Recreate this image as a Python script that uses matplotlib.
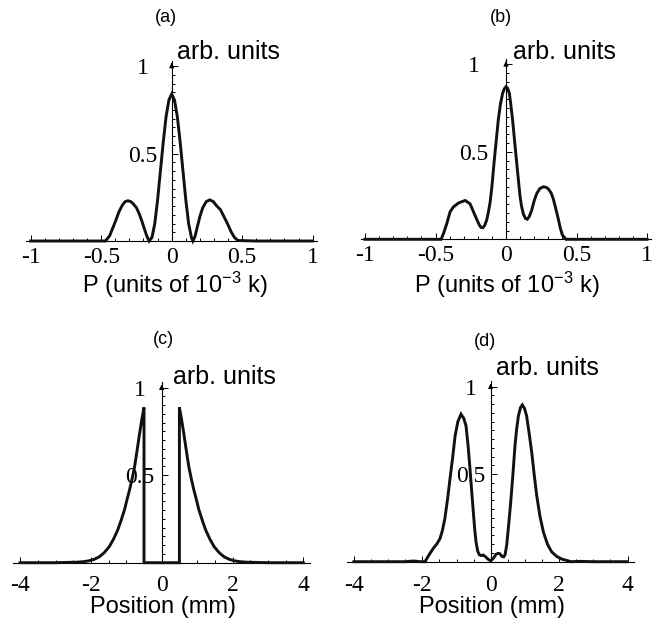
import matplotlib
matplotlib.use('Agg')
import matplotlib.pyplot as plt
from matplotlib.ticker import MultipleLocator

plt.rcParams['axes.unicode_minus'] = False
plt.rcParams['mathtext.default'] = 'regular'

# ------------------------------------------------------------
# data
# ------------------------------------------------------------
# (a) momentum distribution
xa = [-1.0, -0.6, -0.47, -0.44, -0.42, -0.40, -0.375, -0.35, -0.33, -0.31, -0.29,
      -0.27, -0.25, -0.23, -0.21, -0.19, -0.175, -0.16, -0.14, -0.12, -0.10, -0.08,
      -0.06, -0.04, -0.02, 0.0, 0.02, 0.04, 0.06, 0.08, 0.10, 0.12, 0.14, 0.15,
      0.165, 0.18, 0.20, 0.22, 0.245, 0.27, 0.295, 0.32, 0.345, 0.37, 0.395, 0.42,
      0.445, 0.47, 0.6, 1.0]
ya = [0.0, 0.0, 0.0, 0.03, 0.07, 0.11, 0.165, 0.205, 0.225, 0.23, 0.225,
      0.21, 0.19, 0.155, 0.11, 0.06, 0.025, 0.0, 0.02, 0.10, 0.235, 0.40,
      0.565, 0.71, 0.805, 0.84, 0.805, 0.71, 0.565, 0.40, 0.235, 0.10, 0.02, 0.0,
      0.025, 0.075, 0.14, 0.19, 0.225, 0.235, 0.225, 0.20, 0.18, 0.14, 0.10, 0.055,
      0.02, 0.003, 0.0, 0.0]

# (b) momentum distribution
xb = [-1.0, -0.7, -0.5, -0.46, -0.44, -0.42, -0.397, -0.374, -0.338, -0.29, -0.255,
      -0.22, -0.189, -0.177, -0.165, -0.152, -0.137, -0.125, -0.113, -0.10, -0.085,
      -0.055, -0.04, -0.024, -0.012, 0.0, 0.012, 0.024, 0.035, 0.047, 0.06, 0.076,
      0.099, 0.11, 0.123, 0.137, 0.151, 0.165, 0.182, 0.20, 0.217, 0.24, 0.265,
      0.285, 0.30, 0.32, 0.335, 0.35, 0.37, 0.385, 0.40, 0.425, 0.7, 1.0]
yb = [0.0, 0.0, 0.0, 0.0, 0.04, 0.09, 0.156, 0.184, 0.207, 0.222, 0.203,
      0.137, 0.081, 0.068, 0.066, 0.078, 0.11, 0.155, 0.21, 0.30, 0.436,
      0.68, 0.77, 0.834, 0.86, 0.872, 0.862, 0.834, 0.765, 0.68, 0.57, 0.436,
      0.25, 0.19, 0.145, 0.12, 0.115, 0.13, 0.166, 0.22, 0.26, 0.29, 0.30,
      0.297, 0.288, 0.265, 0.232, 0.185, 0.119, 0.065, 0.024, 0.0, 0.0, 0.0]

# (c) position distribution
xc = [-4.0, -3.0, -2.4, -2.2, -2.05, -1.9, -1.76, -1.62, -1.48, -1.36, -1.24, -1.15,
      -1.05, -0.98, -0.906, -0.83, -0.763, -0.7, -0.62, -0.56, -0.5, -0.5,
      0.5, 0.5, 0.56, 0.62, 0.7, 0.763, 0.83, 0.906, 0.98, 1.05, 1.15, 1.24,
      1.36, 1.48, 1.62, 1.76, 1.9, 2.05, 2.2, 2.4, 3.0, 4.0]
yc = [0.0, 0.0, 0.003, 0.006, 0.011, 0.02, 0.034, 0.058, 0.092, 0.135, 0.188, 0.24,
      0.303, 0.36, 0.418, 0.485, 0.552, 0.635, 0.744, 0.82, 0.887, 0.0,
      0.0, 0.887, 0.82, 0.744, 0.635, 0.552, 0.485, 0.418, 0.36, 0.303, 0.24, 0.188,
      0.135, 0.092, 0.058, 0.034, 0.02, 0.011, 0.006, 0.003, 0.0, 0.0]

# (d) position distribution
xd = [-4.0, -3.0, -2.5, -2.25, -2.05, -1.92, -1.8, -1.68, -1.58, -1.48, -1.41, -1.34,
      -1.26, -1.19, -1.11, -1.04, -0.96, -0.868, -0.79, -0.722, -0.66, -0.605, -0.555,
      -0.508, -0.47, -0.43, -0.38, -0.333, -0.28, -0.22, -0.15, -0.08, 0.0, 0.08,
      0.155, 0.22, 0.27, 0.33, 0.38, 0.42, 0.468, 0.52, 0.585, 0.65, 0.71, 0.76,
      0.81, 0.87, 0.925, 0.99, 1.05, 1.12, 1.2, 1.27, 1.345, 1.44, 1.54, 1.66,
      1.78, 1.93, 2.08, 2.35, 2.6, 3.0, 4.0]
yd = [0.0, 0.0, 0.0, 0.004, 0.0, 0.0, 0.04, 0.076, 0.10, 0.133, 0.18, 0.247,
      0.36, 0.474, 0.60, 0.72, 0.80, 0.843, 0.82, 0.777, 0.66, 0.53, 0.40,
      0.284, 0.19, 0.114, 0.06, 0.04, 0.035, 0.038, 0.028, 0.015, 0.005, 0.02,
      0.042, 0.048, 0.045, 0.03, 0.028, 0.04, 0.095, 0.20, 0.34, 0.50, 0.663, 0.76,
      0.833, 0.88, 0.896, 0.875, 0.833, 0.74, 0.625, 0.50, 0.379, 0.26, 0.17, 0.10,
      0.057, 0.03, 0.015, 0.0, 0.002, 0.0, 0.0]

p_ticks = [-1, -0.5, 0, 0.5, 1]
p_labels = ['-1', '-0.5', '0', '0.5', '1']
pos_ticks = [-4, -2, 0, 2, 4]
pos_labels = ['-4', '-2', '0', '2', '4']
y_ticks = [0.5, 1]
y_labels = ['0.5', '1']

W, H = 658, 628
fig = plt.figure(figsize=(W / 100, H / 100), dpi=100)
SERIF = 'Liberation Serif'
SANS = 'Liberation Sans'


def panel(x0, y0, sx, sy, xlim, ylim, x, y, xt, xtl, xminor, ypad, xpad):
    # x0, y0: pixel position of the data origin, sx/sy: pixels per unit
    left = x0 + xlim[0] * sx
    right = x0 + xlim[1] * sx
    bot = y0 - ylim[0] * sy
    top = y0 - ylim[1] * sy
    ax = fig.add_axes([left / W, 1 - bot / H, (right - left) / W, (bot - top) / H])
    ax.set_xlim(xlim)
    ax.set_ylim(ylim)
    ax.patch.set_visible(False)
    for s in ['top', 'right']:
        ax.spines[s].set_visible(False)
    ax.spines['left'].set_position(('data', 0))
    ax.spines['bottom'].set_position(('data', 0))
    ax.spines['left'].set_bounds(0, ylim[1])
    for s in ['left', 'bottom']:
        ax.spines[s].set_linewidth(0.8)
    ax.plot(x, y, color='#111111', lw=2.1, solid_joinstyle='miter', zorder=3)
    ax.annotate('', xy=(0, ylim[1] + 0.005), xytext=(0, ylim[1] - 0.04),
                arrowprops=dict(arrowstyle='-|>', color='k', lw=0.8,
                                mutation_scale=7), annotation_clip=False)
    ax.set_xticks(xt)
    ax.set_xticklabels(xtl, family=SERIF, fontsize=17)
    ax.xaxis.set_minor_locator(MultipleLocator(xminor))
    ax.set_yticks(y_ticks)
    ax.set_yticklabels(y_labels, family=SERIF, fontsize=17, ha='center')
    ax.yaxis.set_minor_locator(MultipleLocator(0.05))
    ax.tick_params(which='both', direction='in', width=0.7)
    ax.tick_params(which='major', length=4)
    ax.tick_params(which='minor', length=2.5)
    ax.tick_params(axis='y', pad=ypad)
    ax.tick_params(axis='x', pad=xpad)
    return ax


panel(171.7, 241, 141, 175, (-1.03, 1.03), (-0.02, 1.03), xa, ya,
      p_ticks, p_labels, 0.1, 21, 4.3)
panel(506, 239.3, 141, 175, (-1.03, 1.03), (-0.02, 1.03), xb, yb,
      p_ticks, p_labels, 0.1, 23, 4.3)
panel(161.7, 562.7, 35.4, 175, (-4.2, 4.2), (-0.02, 1.03), xc, yc,
      pos_ticks, pos_labels, 0.5, 15.5, 9)
panel(490.7, 561.7, 34.2, 175, (-4.2, 4.2), (-0.02, 1.03), xd, yd,
      pos_ticks, pos_labels, 0.5, 14.5, 9.5)


def ftext(x, y, s, **kw):
    fig.text(x / W, 1 - y / H, s, **kw)


for (tx, ty, s) in [(166, 18, '(a)'), (500.7, 18, '(b)'), (163, 339, '(c)'), (485, 342, '(d)')]:
    ftext(tx, ty, s, family=SANS, fontsize=13, ha='center', va='center')

for (tx, ty) in [(177, 52), (513, 52), (173, 377), (496, 368)]:
    ftext(tx, ty, 'arb. units', family=SANS, fontsize=18, ha='left', va='center')

xlab = 'P (units of 10$^{-3}$ k)'
ftext(175, 285, xlab, family=SANS, fontsize=17, ha='center', va='center')
ftext(507, 285, xlab, family=SANS, fontsize=17, ha='center', va='center')
ftext(163, 607, 'Position (mm)', family=SANS, fontsize=17, ha='center', va='center')
ftext(492, 607, 'Position (mm)', family=SANS, fontsize=17, ha='center', va='center')

fig.savefig('out.png', dpi=100)
